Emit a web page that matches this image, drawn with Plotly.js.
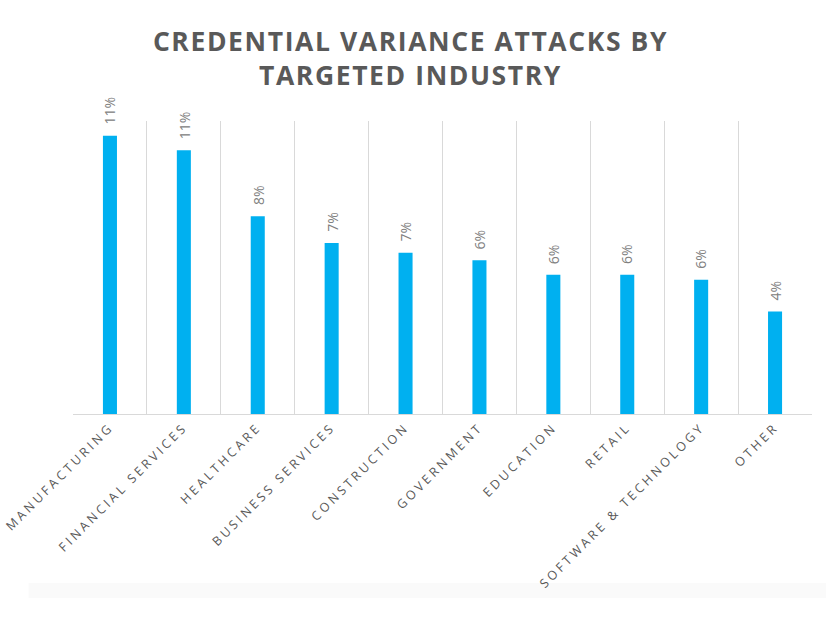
<!DOCTYPE html>
<html>
<head>
<meta charset="utf-8">
<script src="https://cdn.plot.ly/plotly-3.0.1.min.js"></script>
<style>
  html, body { margin: 0; padding: 0; background: #ffffff; }
  #chart { width: 826px; height: 620px; }
  .xtick text { letter-spacing: 3.1px; }
  .gtitle { letter-spacing: 1.6px; }
</style>
</head>
<body>
<div id="chart"></div>
<script>
const industries = ["MANUFACTURING", "FINANCIAL SERVICES", "HEALTHCARE", "BUSINESS SERVICES", "CONSTRUCTION", "GOVERNMENT", "EDUCATION", "RETAIL", "SOFTWARE & TECHNOLOGY", "OTHER"];
const sharePct = [11.4, 10.8, 8.1, 7.0, 6.6, 6.3, 5.7, 5.7, 5.5, 4.2];
const shareLabels = ["11%", "11%", "8%", "7%", "7%", "6%", "6%", "6%", "6%", "4%"];

const trace = {
  type: "bar",
  x: industries,
  y: sharePct,
  marker: { color: "#00b0f0" },
  hoverinfo: "x+y"
};

const labelAnnotations = industries.map((name, i) => ({
  x: name,
  y: sharePct[i],
  xref: "x",
  yref: "y",
  text: shareLabels[i],
  showarrow: false,
  textangle: -90,
  xanchor: "center",
  yanchor: "bottom",
  yshift: 9,
  font: { family: "Open Sans, Segoe UI, sans-serif", size: 14, color: "#808080" }
}));

const layout = {
  width: 826,
  height: 620,
  margin: { l: 73, r: 14, t: 121, b: 206 },
  paper_bgcolor: "#ffffff",
  plot_bgcolor: "#ffffff",
  bargap: 0.81,
  showlegend: false,
  title: {
    text: "CREDENTIAL VARIANCE ATTACKS BY<br>TARGETED INDUSTRY",
    x: 0.497,
    xanchor: "center",
    y: 0.918,
    yanchor: "top",
    font: { family: "Open Sans, Segoe UI, sans-serif", size: 26.5, color: "#595959", weight: 700 }
  },
  xaxis: {
    type: "category",
    tickson: "boundaries",
    showgrid: true,
    gridcolor: "#d9d9d9",
    gridwidth: 1,
    showline: true,
    linecolor: "#d9d9d9",
    linewidth: 1,
    ticks: "",
    tickangle: -45,
    tickfont: { family: "Open Sans, Segoe UI, sans-serif", size: 12.5, color: "#595959" },
    automargin: false
  },
  yaxis: {
    range: [0, 12],
    showgrid: false,
    zeroline: false,
    showticklabels: false,
    showline: false,
    ticks: ""
  },
  annotations: labelAnnotations,
  shapes: [
    { type: "rect", xref: "paper", yref: "paper", x0: -0.06, x1: 1.02, y0: -0.628, y1: -0.577,
      fillcolor: "#fafafa", line: { width: 0 }, layer: "below" }
  ]
};

Plotly.newPlot("chart", [trace], layout, { displayModeBar: false, staticPlot: true });
</script>
</body>
</html>
